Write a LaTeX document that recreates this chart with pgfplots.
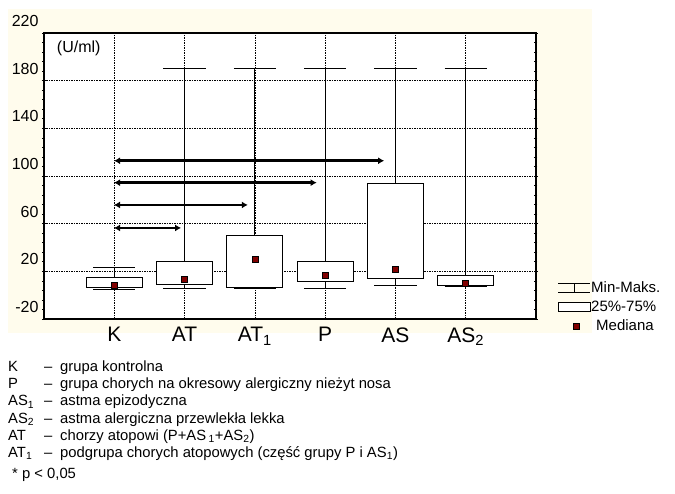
\documentclass[border=0pt]{standalone}
\usepackage{pgfplots}
\pgfplotsset{compat=1.18}
\usepgfplotslibrary{statistics}
\usetikzlibrary{arrows.meta}
\usepackage{fontspec}
\setmainfont{Liberation Sans}
\definecolor{beige}{RGB}{255,252,237}
\definecolor{medred}{RGB}{128,0,0}
\newcommand\legline[3]{%
  \node[anchor=base west, inner sep=0pt] at (8,#1) {#2};
  \node[anchor=base west, inner sep=0pt] at (44,#1) {–};
  \node[anchor=base west, inner sep=0pt] at (60,#1) {#3};}
\begin{document}
\begin{tikzpicture}[x=1pt,y=1pt]
\useasboundingbox (0,0) rectangle (675,493);
\fill[beige] (8,160) rectangle (592,484);
\begin{axis}[
  at={(44pt,174pt)}, anchor=south west,
  width=492pt, height=286pt, scale only axis,
  xmin=0, xmax=7, ymin=-20, ymax=220,
  axis background/.style={fill=white},
  axis line style={line width=1.5pt},
  xtick={1,...,6},
  xticklabels={K,AT,AT\textsubscript{1},P,AS,AS\textsubscript{2}},
  x tick style={draw=none},
  ytick={-20,20,...,220},
  yticklabels={-20,20,60,100,140,180,220},
  minor y tick num=4,
  ytick pos=both,
  tick align=center,
  major tick length=4pt, minor tick length=3pt,
  y tick style={black, line width=0.6pt},
  xmajorgrids, ymajorgrids,
  major grid style={black, line width=0.6pt, dash pattern=on 1.5pt off 1pt},
  x tick label style={font=\fontsize{21}{21}\selectfont, yshift=-3pt},
  y tick label style={font=\fontsize{16}{16}\selectfont, yshift=12pt},
  boxplot/draw direction=y,
  boxplot/every box/.style={fill=white, draw=black, line width=1pt},
  boxplot/every whisker/.style={black, line width=1pt},
  boxplot/every median/.style={draw=none},
  boxplot/box extend=0.8,
  boxplot/whisker extend=0.6,
]
\addplot[forget plot, boxplot prepared={draw position=1, lower whisker=4.9, lower quartile=6.3, median=8, upper quartile=14.7, upper whisker=23.4}] coordinates {};
\addplot[forget plot, boxplot prepared={draw position=2, lower whisker=6, lower quartile=8.8, median=13.6, upper quartile=28.1, upper whisker=190.4}] coordinates {};
\addplot[forget plot, boxplot prepared={draw position=3, lower whisker=5.8, lower quartile=6.3, median=30.4, upper quartile=50.2, upper whisker=190.4}] coordinates {};
\addplot[forget plot, boxplot prepared={draw position=4, lower whisker=5.8, lower quartile=11.3, median=17, upper quartile=28.1, upper whisker=190.4}] coordinates {};
\addplot[forget plot, boxplot prepared={draw position=5, lower whisker=8, lower quartile=13.6, median=21.4, upper quartile=93.9, upper whisker=190.4}] coordinates {};
\addplot[forget plot, boxplot prepared={draw position=6, lower whisker=6.9, lower quartile=7.7, median=10.2, upper quartile=16.7, upper whisker=190.4}] coordinates {};
\addplot[forget plot, only marks, mark=square*, mark size=3pt, mark options={fill=medred, draw=black, line width=0.5pt}] coordinates {(1,8) (2,13.6) (3,30.4) (4,17) (5,21.4) (6,10.2)};
\addplot[forget plot, black, line width=2.6pt, arrows={Latex[length=6pt,width=7pt]-Latex[length=6pt,width=7pt]}] coordinates {(0.996,112.8) (4.84,112.8)};
\addplot[forget plot, black, line width=2.6pt, arrows={Latex[length=6pt,width=7pt]-Latex[length=6pt,width=7pt]}] coordinates {(0.996,94.4) (3.88,94.4)};
\addplot[forget plot, black, line width=2.6pt, arrows={Latex[length=6pt,width=7pt]-Latex[length=6pt,width=7pt]}] coordinates {(0.996,75.7) (2.90,75.7)};
\addplot[forget plot, black, line width=2.6pt, arrows={Latex[length=6pt,width=7pt]-Latex[length=6pt,width=7pt]}] coordinates {(0.996,56.4) (1.95,56.4)};
\node[anchor=west, font=\fontsize{16}{16}\selectfont, inner sep=0pt] at (rel axis cs:0.026,0.9476) {(U/ml)};
\end{axis}
% legend
\draw[line width=0.8pt] (558,209.7) -- (590,209.7) (558,200.3) -- (590,200.3) (574,200.3) -- (574,209.7);
\draw[line width=0.8pt, fill=white] (558,181.3) rectangle (590,191);
\fill[medred, draw=black, line width=0.4pt] (573,163.3) rectangle (579,169.3);
\begin{scope}[font=\fontsize{15}{15}\selectfont]
\node[anchor=base west, inner sep=0pt] at (591,200) {Min-Maks.};
\node[anchor=base west, inner sep=0pt] at (591,181) {25\%-75\%};
\node[anchor=base west, inner sep=0pt] at (596,162.5) {Mediana};
\end{scope}
\begin{scope}[font=\fontsize{14.8}{14.8}\selectfont]
\legline{121.3}{K}{grupa kontrolna}
\legline{104}{P}{grupa chorych na okresowy alergiczny nieżyt nosa}
\legline{87}{AS\textsubscript{1}}{astma epizodyczna}
\legline{69.7}{AS\textsubscript{2}}{astma alergiczna przewlekła lekka}
\legline{52.3}{AT}{chorzy atopowi (P+AS\,\textsubscript{1}+AS\textsubscript{2})}
\legline{35.3}{AT\textsubscript{1}}{podgrupa chorych atopowych (część grupy P i AS\textsubscript{1})}
\node[anchor=base west, inner sep=0pt] at (12,14.7) {* p < 0,05};
\end{scope}
\end{tikzpicture}
\end{document}
